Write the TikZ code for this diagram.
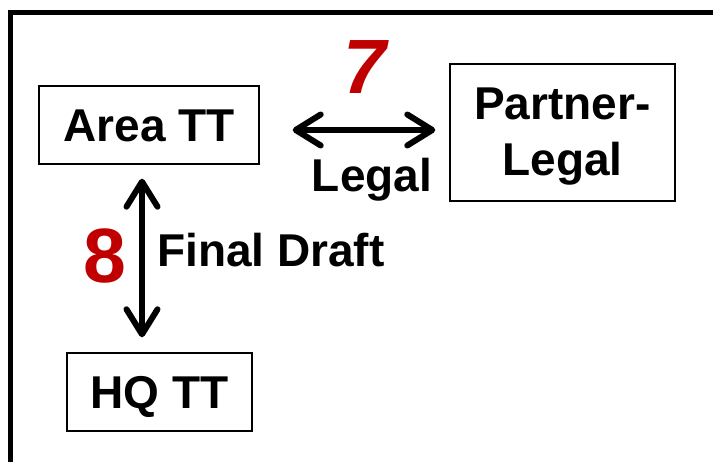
\documentclass[tikz,border=0pt]{standalone}
\usepackage{fontspec}
\setmainfont{Liberation Sans}
\usetikzlibrary{arrows.meta,calc}
\definecolor{numred}{HTML}{C00000}
\tikzset{
  box/.style={draw=black, line width=1.4pt, inner sep=0pt, align=center,
    font=\fontsize{46}{56}\selectfont\bfseries},
  lbl/.style={inner sep=0pt, font=\fontsize{46}{56}\selectfont\bfseries},
  num/.style={inner sep=0pt, text=numred, font=\fontsize{77}{80}\selectfont\bfseries},
  dbl/.style={line width=6pt, {Straight Barb[length=25pt,width=31pt,round]}-{Straight Barb[length=25pt,width=31pt,round]}}
}
\begin{document}
\begin{tikzpicture}[x=1pt,y=-1pt]
\useasboundingbox (0,0) rectangle (713,462);
\draw[line width=5pt] (10.5,462) -- (10.5,12.5) -- (713,12.5);
\node[box, minimum width=220pt, minimum height=78pt, text height=34pt, text depth=0pt] (area) at (149,125) {Area TT};
\node[box, minimum width=225pt, minimum height=137pt, text depth=2pt] (partner) at (562.5,132.5) {Partner-\\Legal};
\node[box, minimum width=185pt, minimum height=78pt, text height=34pt, text depth=0pt] (hq) at (159.5,392) {HQ TT};
\draw[dbl] ($(area.east)+(33,5)$) -- ($(partner.west)+(-14,-2.5)$);
\draw[dbl] ($(area.south)+(-7,14)$) -- ($(hq.north)+(-17.5,-15)$);
\node[num, font=\fontsize{77}{80}\selectfont\bfseries\itshape] (seven) at (365,67.5) {7};
\node[lbl, anchor=base] (legal) at (372,192) {Legal};
\node[num] (eight) at (105,256) {8};
\node[lbl, anchor=base west] (final) at (157,267) {Final Draft};
\end{tikzpicture}
\end{document}
